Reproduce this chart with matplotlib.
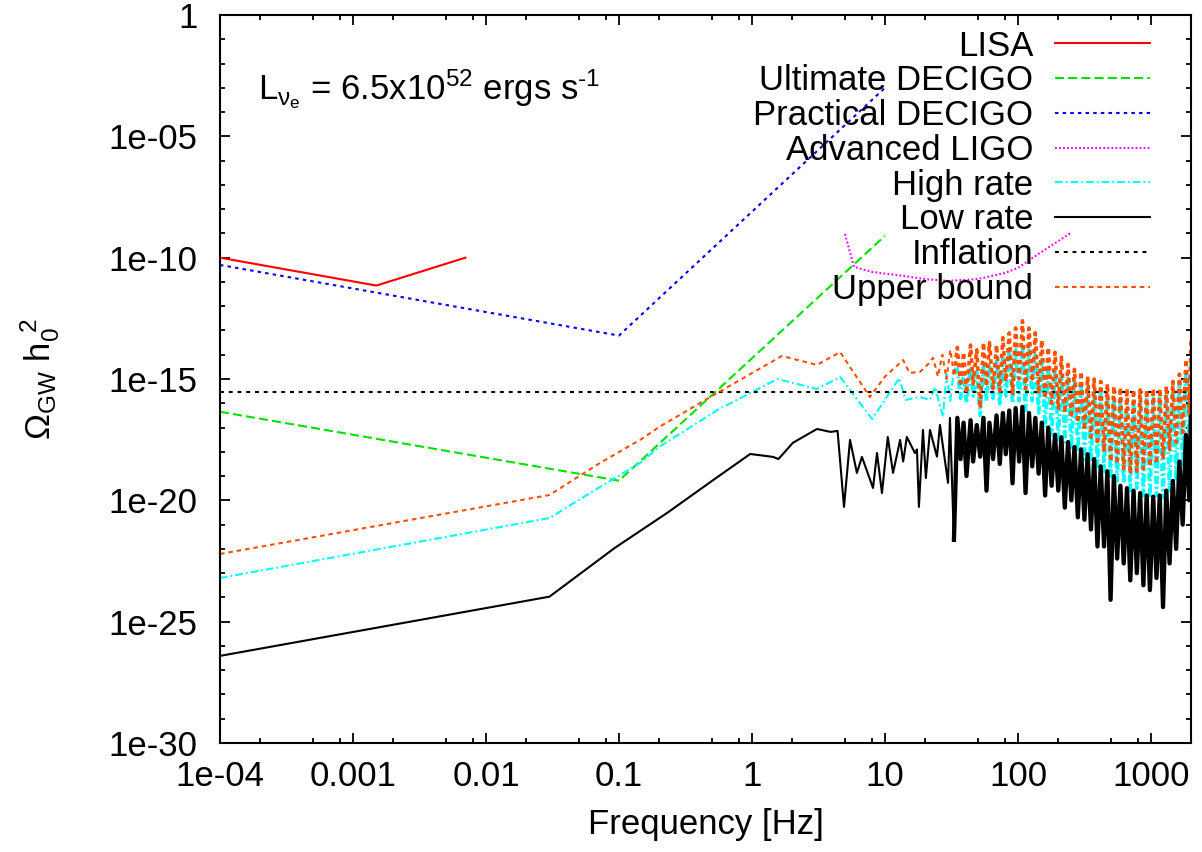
import matplotlib.pyplot as plt
import numpy as np

# all Omega values are stored as log10(Omega_GW h0^2)
lisa_f = [1e-4, 1.5e-3, 7e-3]
lisa_v = [-10.0, -11.15, -10.0]

ult_decigo_f = [1e-4, 0.1, 10]
ult_decigo_v = [-16.35, -19.19, -9.1]

prac_decigo_f = [1e-4, 0.1, 10]
prac_decigo_v = [-10.3, -13.21, -3.0]

aligo_f = [5, 5.85, 8, 12, 20, 30, 50, 80, 100, 150, 250]
aligo_v = [-9.02, -10.38, -10.59, -10.71, -10.88, -10.96, -10.88, -10.63, -10.42, -9.77, -8.98]

inflation_f = [1e-4, 2000]
inflation_v = [-15.55, -15.55]

high_f = [1e-4, 0.03, 0.072, 0.148, 0.2, 0.55, 1.55, 3.08, 4.6, 8.0, 10.2, 12.8, 14.3,
          18.3, 21.8, 23.8, 27.3, 29, 31, 33]
high_v = [-23.2, -20.73, -19.45, -18.42, -17.8, -16.28, -15.0, -15.41, -14.92, -16.65, -15.78,
          -14.96, -15.86, -15.74, -15.86, -15.33, -16.56, -14.8, -15.9, -14.6]

upper_f = [1e-4, 0.03, 0.072, 0.148, 0.2, 0.55, 1.68, 3.08, 4.6, 7.7, 10.0, 13.7, 15.3,
           18.3, 21, 23, 25, 27, 29, 31, 33]
upper_v = [-22.21, -19.78, -18.46, -17.47, -16.98, -15.57, -14.05, -14.42, -13.89, -15.74, -14.9,
           -14.22, -14.75, -14.71, -14.4, -14.13, -14.9, -14.0, -15.0, -13.8, -14.8]

low_f = [1e-4, 0.03, 0.093, 0.148, 0.23, 0.55, 0.97, 1.44, 1.58, 2.03, 3.08, 3.9, 4.4,
         4.92, 5.46, 6.15, 6.71, 8.13, 8.71, 9.49, 10.5, 11.5, 13.0, 13.7, 14.6, 16.8, 17.4,
         18.0, 19.3, 20.3, 21.8, 24.6, 25.9, 29.8, 30.8, 33.0]
low_v = [-26.41, -23.97, -21.96, -21.22, -20.52, -19.04, -18.09, -18.21, -18.3, -17.63, -17.06,
         -17.18, -17.14, -20.27, -17.51, -18.87, -18.21, -19.49, -18.05, -19.7, -17.39, -18.87,
         -17.51, -18.4, -17.39, -18.05, -17.9, -20.27, -17.1, -19.08, -17.1, -18.2, -16.89,
         -19.28, -16.6, -21.63]

# dense oscillating part (35 Hz .. 2 kHz), peaks and troughs
dense_f = [35, 37, 39, 41, 44, 46, 49, 52, 55, 58, 61, 65, 69, 73, 77, 81, 86, 91, 96, 102,
           108, 114, 121, 128, 135, 143, 151, 160, 169, 179, 190, 201, 212, 225, 238, 252, 266,
           282, 298, 316, 334, 354, 374, 396, 419, 444, 470, 497, 526, 557, 589, 624, 660, 699,
           740, 783, 829, 877, 928, 982, 1040, 1100, 1164, 1232, 1304, 1380, 1461, 1546, 1636,
           1732, 1833, 1940, 2000]
low_dense = [-16.6, -18.3, -16.8, -19.0, -16.7, -18.4, -16.9, -18.2, -16.6, -19.6,
             -16.8, -18.3, -16.5, -18.5, -16.4, -18.1, -16.3, -19.3, -16.2, -18.4,
             -16.15, -19.7, -16.4, -18.6, -16.6, -18.9, -16.8, -19.8, -17.0, -19.4,
             -17.3, -19.6, -17.4, -20.3, -17.6, -20.0, -17.8, -20.7, -17.9, -20.8,
             -18.1, -21.2, -18.3, -21.9, -18.6, -21.9, -18.8, -24.1, -19.0, -22.4,
             -19.4, -22.6, -19.5, -23.3, -19.6, -23.0, -19.7, -23.5, -19.8, -23.7,
             -19.85, -23.2, -19.8, -24.4, -19.6, -22.6, -19.2, -22.0, -18.4, -21.0,
             -17.3, -20.0, -16.3]
high_dense = [-14.6, -15.8, -14.8, -16.0, -14.5, -15.7, -14.7, -16.5, -14.5, -15.9,
              -14.4, -15.8, -14.2, -16.1, -14.0, -15.7, -13.9, -16.0, -13.8, -15.9,
              -13.6, -16.3, -13.8, -15.9, -14.0, -16.4, -14.2, -17.0, -14.4, -17.3,
              -14.6, -17.5, -14.8, -17.6, -14.9, -17.9, -15.1, -18.0, -15.2, -18.3,
              -15.4, -18.4, -15.5, -18.6, -15.6, -18.8, -15.7, -19.0, -15.8, -19.2,
              -15.85, -19.3, -15.9, -19.6, -15.9, -19.5, -15.9, -19.8, -15.85, -19.9,
              -15.8, -19.8, -15.7, -19.9, -15.6, -19.6, -15.4, -19.2, -15.1, -18.6,
              -14.7, -17.6, -14.2]
upper_dense = [-13.7, -15.3, -13.9, -15.6, -13.6, -15.2, -13.8, -16.2, -13.5, -15.3,
               -13.5, -15.4, -13.6, -15.5, -13.3, -15.1, -13.1, -15.6, -12.9, -15.0,
               -12.6, -15.4, -12.9, -15.1, -13.1, -15.6, -13.4, -15.8, -13.7, -16.0,
               -13.9, -16.2, -14.1, -16.4, -14.4, -16.6, -14.6, -16.8, -14.7, -17.1,
               -14.9, -17.4, -15.0, -17.7, -15.1, -18.0, -15.2, -18.4, -15.3, -18.5,
               -15.35, -18.7, -15.4, -18.9, -15.45, -18.8, -15.45, -18.7, -15.45, -18.6,
               -15.4, -18.5, -15.4, -18.3, -15.3, -17.9, -15.1, -17.6, -14.8, -17.2,
               -14.2, -16.4, -13.3]

labels = ["LISA", "Ultimate DECIGO", "Practical DECIGO", "Advanced LIGO",
          "High rate", "Low rate", "Inflation", "Upper bound"]

xtick_vals = [1e-4, 1e-3, 1e-2, 1e-1, 1, 10, 100, 1000]
xtick_labels = ["1e-04", "0.001", "0.01", "0.1", "1", "10", "100", "1000"]
ytick_vals = [1, 1e-5, 1e-10, 1e-15, 1e-20, 1e-25, 1e-30]
ytick_labels = ["1", "1e-05", "1e-10", "1e-15", "1e-20", "1e-25", "1e-30"]

plt.rcParams['font.family'] = ['Liberation Sans', 'DejaVu Sans']
plt.rcParams['mathtext.fontset'] = 'custom'
plt.rcParams['mathtext.rm'] = 'Liberation Sans'
plt.rcParams['mathtext.it'] = 'Liberation Sans'
plt.rcParams['lines.scale_dashes'] = False

fs = 25
fig = plt.figure(figsize=(12.02, 8.52), dpi=100)
ax = fig.add_axes([220 / 1202, 109 / 852, 971 / 1202, 728 / 852])


def om(v):
    return np.power(10.0, np.array(v))


lw = 1.5
lw_dense = 2.6
dash_high = (0, (5.5, 2.2, 1.3, 2.2))
dash_upper = (0, (3.3, 2.8))

ax.plot(lisa_f, om(lisa_v), color='#ff0000', lw=lw, label=labels[0])
ax.plot(ult_decigo_f, om(ult_decigo_v), color='#00e000', lw=lw,
        linestyle=(0, (6.5, 3.0)), label=labels[1])
ax.plot(prac_decigo_f, om(prac_decigo_v), color='#0000ff', lw=lw,
        linestyle=(0, (2.5, 3.0)), label=labels[2])
ax.plot(aligo_f, om(aligo_v), color='#ff00ff', lw=lw,
        linestyle=(0, (1.3, 1.6)), label=labels[3])

ax.plot(high_f, om(high_v), color='#00ffff', lw=lw, linestyle=dash_high, label=labels[4])
ax.plot(high_f[-1:] + dense_f, om(high_v[-1:] + high_dense), color='#00ffff',
        lw=lw_dense, linestyle=dash_high)

ax.plot(low_f, om(low_v), color='black', lw=lw, label=labels[5])
ax.plot(low_f[-1:] + dense_f, om(low_v[-1:] + low_dense), color='black', lw=3.1)

ax.plot(inflation_f, om(inflation_v), color='black', lw=lw,
        linestyle=(0, (2.8, 3.5)), label=labels[6])

ax.plot(upper_f, om(upper_v), color='#ff5000', lw=lw, linestyle=dash_upper, label=labels[7])
ax.plot(upper_f[-1:] + dense_f, om(upper_v[-1:] + upper_dense), color='#ff5000',
        lw=lw_dense, linestyle=dash_upper)

ax.set_xscale('log')
ax.set_yscale('log')
ax.set_xlim(1e-4, 2000)
ax.set_ylim(1e-30, 1)

ax.set_xticks(xtick_vals)
ax.set_xticklabels(xtick_labels)
ax.set_yticks(ytick_vals)
ax.set_yticklabels(ytick_labels)
xminor = [m * 10.0 ** e for e in range(-4, 4) for m in (2, 5, 8)]
ax.set_xticks([t for t in xminor if t < 2000], minor=True)
ax.set_yticks([10.0 ** -e for e in range(0, 31) if e % 5], minor=True)
ax.xaxis.set_minor_formatter(plt.NullFormatter())
ax.yaxis.set_minor_formatter(plt.NullFormatter())

ax.tick_params(which='both', direction='in', top=True, right=True, width=1.3,
               labelsize=fs)
ax.tick_params(which='major', length=7.5)
ax.tick_params(which='minor', length=3.8)
ax.tick_params(axis='x', pad=12)
ax.tick_params(axis='y', pad=16)
for s in ax.spines.values():
    s.set_linewidth(1.5)

ax.set_xlabel("Frequency [Hz]", fontsize=fs, labelpad=11)
ax.set_ylabel(r"$\Omega_{GW}\ h_0^{\ 2}$", fontsize=fs, labelpad=34)

ax.text(0.039, 0.883, r"L$_{\nu_e}$ = 6.5x10$^{52}$ ergs s$^{\text{-1}}$",
        transform=ax.transAxes, fontsize=fs, va='baseline', ha='left')

ax.legend(loc='upper right', bbox_to_anchor=(0.958, 0.98), frameon=False,
          fontsize=fs, markerfirst=False, alignment='right', borderpad=0,
          borderaxespad=0, handlelength=2.74, handletextpad=0.63,
          labelspacing=0.05)

fig.savefig("out.png", dpi=100)
